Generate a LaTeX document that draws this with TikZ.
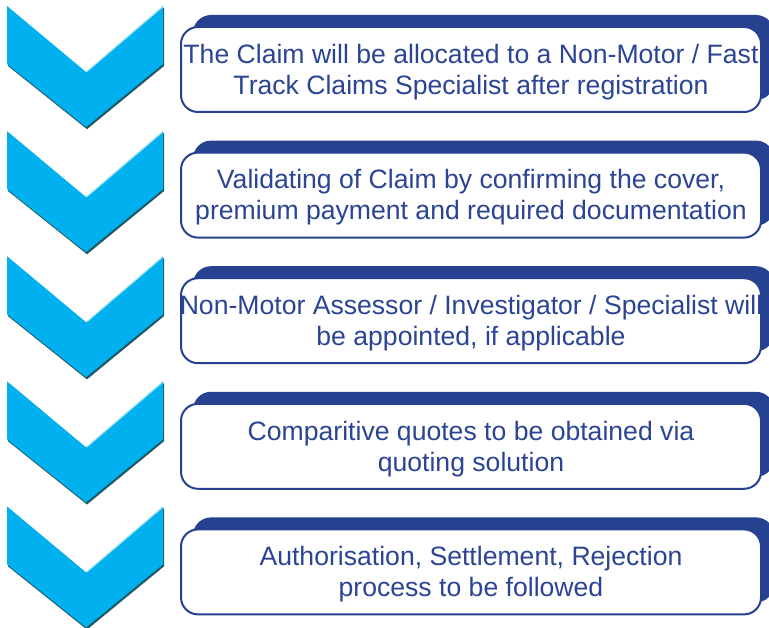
\documentclass[tikz,border=0pt]{standalone}
\usepackage{fontspec}
\setmainfont{Liberation Sans}
\definecolor{chev}{HTML}{00B0EF}
\definecolor{chevshadow}{HTML}{1D5A66}
\definecolor{chevlight}{HTML}{A8E4F8}
\definecolor{navy}{HTML}{26418F}
\definecolor{txtblue}{HTML}{2B4494}
\begin{document}
\begin{tikzpicture}[x=1pt,y=-1pt,
  backbox/.style={fill=navy, rounded corners=18pt},
  frontbox/.style={draw=navy, line width=2pt, fill=white, rounded corners=17pt,
    minimum width=580pt, minimum height=85pt, inner sep=0pt},
  steptext/.style={text=txtblue, align=center, inner sep=0pt,
    font=\fontsize{26.6}{31}\selectfont}]
\useasboundingbox (0,0) rectangle (769,628);
\begin{scope}
\clip (0,0) rectangle (769,628);
\foreach \i/\msg in {
  0/{The Claim will be allocated to a Non-Motor / Fast\\Track Claims Specialist after registration},
  1/{Validating of Claim by confirming the cover,\\premium payment and required documentation},
  2/{Non-Motor Assessor / Investigator / Specialist will\\be appointed, if applicable},
  3/{Comparitive quotes to be obtained via\\quoting solution},
  4/{Authorisation, Settlement, Rejection\\process to be followed}}{
  % chevron with a dark drop edge and a light inner rim
  \begin{scope}[shift={(0,6+125.1*\i)}]
    \fill[chevshadow] (8,1.8) -- (87,67.8) -- (164,1.8) -- (164,60) -- (87,123.2) -- (8,60) -- cycle;
    \fill[chev] (7,0) -- (86,66) -- (163,0) -- (163,58) -- (86,121) -- (7,58) -- cycle;
    \draw[chevlight, line width=1pt] (87,65.5) -- (162.5,1);
  \end{scope}
  % step box: dark tab behind, white rounded box in front
  \begin{scope}[shift={(0,125.6*\i)}]
    \fill[backbox] (193,15) rectangle (774,100);
    \node[frontbox] (box\i) at (471,69.5) {};
    \node[steptext] (txt\i) at ([yshift=-2.5pt]box\i.center) {\msg};
  \end{scope}
}
\end{scope}
\end{tikzpicture}
\end{document}
